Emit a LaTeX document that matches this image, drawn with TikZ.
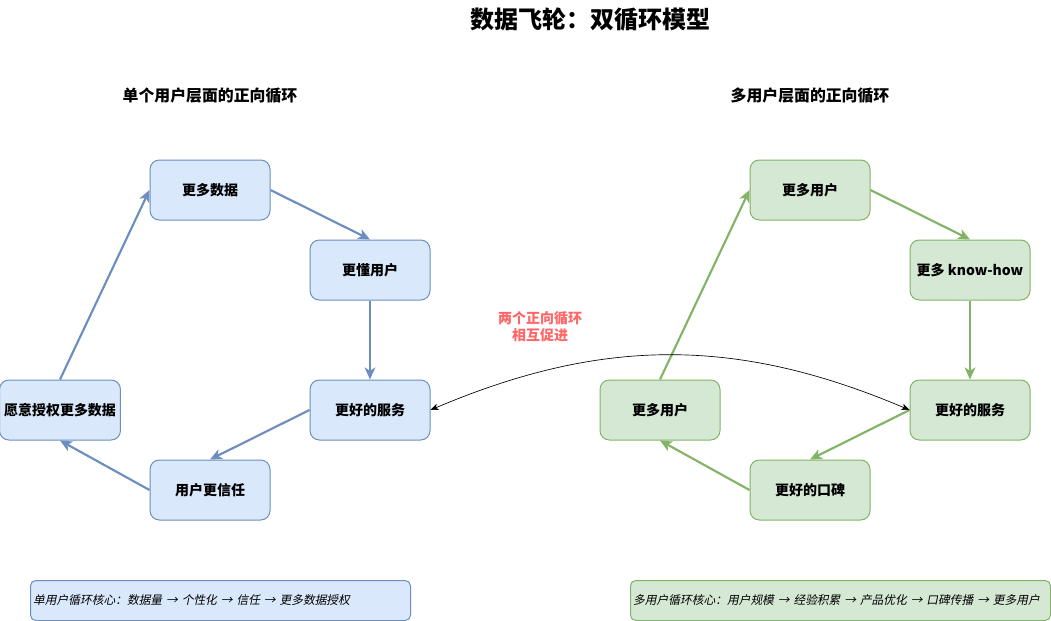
\documentclass[tikz,border=0pt]{standalone}
\usepackage{fontspec}
\setmainfont{Noto Sans CJK SC}[AutoFakeSlant=0.2]
\usetikzlibrary{arrows.meta}
\definecolor{bluefill}{HTML}{DAE8FC}
\definecolor{bluedraw}{HTML}{6C8EBF}
\definecolor{greenfill}{HTML}{D5E8D4}
\definecolor{greendraw}{HTML}{82B366}
\definecolor{linkred}{HTML}{FF6666}
\tikzset{
  bluebox/.style={rectangle, rounded corners=7pt, draw=bluedraw, fill=bluefill, line width=0.75pt, minimum width=90pt, minimum height=45pt, align=center, font=\fontsize{10.5pt}{12pt}\selectfont\bfseries},
  greenbox/.style={rectangle, rounded corners=7pt, draw=greendraw, fill=greenfill, line width=0.75pt, minimum width=90pt, minimum height=45pt, align=center, font=\fontsize{10.5pt}{12pt}\selectfont\bfseries},
  bluearrow/.style={-{Stealth[length=9pt, width=8pt, inset=2.5pt]}, line width=1.6pt, draw=bluedraw},
  greenarrow/.style={-{Stealth[length=9pt, width=8pt, inset=2.5pt]}, line width=1.6pt, draw=greendraw},
}

\begin{document}
\begin{tikzpicture}[x=0.75pt, y=-0.75pt]
  \tikzset{
    heading/.style={font=\fontsize{11.9pt}{13pt}\selectfont\bfseries},
    linkarrow/.style={{Stealth[length=6pt, width=5pt, inset=1.5pt]}-{Stealth[length=6pt, width=5pt, inset=1.5pt]}, line width=0.5pt},
    summary/.style={rectangle, rounded corners=4pt, line width=0.75pt, minimum height=30pt, inner sep=2pt, align=left, anchor=north west, font=\fontsize{8.8pt}{10pt}\selectfont\itshape},
  }
  \useasboundingbox (0,0) rectangle (1051,621);

  % Titles
  \node[font=\fontsize{18pt}{20pt}\selectfont\bfseries] (title) at (590,20) {数据飞轮：双循环模型};
  \node[heading] (lefthead) at (210,96) {单个用户层面的正向循环};
  \node[heading] (righthead) at (810,96) {多用户层面的正向循环};

  % Single user loop
  \node[bluebox] (data) at (210,190) {更多数据};
  \node[bluebox] (know) at (370,270) {更懂用户};
  \node[bluebox] (lservice) at (370,410) {更好的服务};
  \node[bluebox] (trust) at (210,490) {用户更信任};
  \node[bluebox] (grant) at (60,410) {愿意授权更多数据};

  \draw[bluearrow] (data.east) -- (know.north);
  \draw[bluearrow] (know.south) -- (lservice.north);
  \draw[bluearrow] (lservice.west) -- (trust.north);
  \draw[bluearrow] (trust.west) -- (grant.south);
  \draw[bluearrow] (grant.north) -- (data.west);

  % Multi user loop
  \node[greenbox] (users) at (810,190) {更多用户};
  \node[greenbox] (knowhow) at (970,270) {更多 know-how};
  \node[greenbox] (rservice) at (970,410) {更好的服务};
  \node[greenbox] (praise) at (810,490) {更好的口碑};
  \node[greenbox] (newusers) at (660,410) {更多用户};

  \draw[greenarrow] (users.east) -- (knowhow.north);
  \draw[greenarrow] (knowhow.south) -- (rservice.north);
  \draw[greenarrow] (rservice.west) -- (praise.north);
  \draw[greenarrow] (praise.west) -- (newusers.south);
  \draw[greenarrow] (newusers.north) -- (users.west);

  % Link between the loops
  \draw[linkarrow] (lservice.east) to[bend left=23] (rservice.west);
  \node[font=\fontsize{10.5pt}{13pt}\selectfont\bfseries, text=linkred, align=center] (linklabel) at (540,327) {两个正向循环\\相互促进};

  % Summaries
  \node[summary, draw=bluedraw, fill=bluefill, text width=281pt] (leftsum) at (30,580) {单用户循环核心：数据量 → 个性化 → 信任 → 更多数据授权};
  \node[summary, draw=greendraw, fill=greenfill, text width=311pt] (rightsum) at (630,580) {多用户循环核心：用户规模 → 经验积累 → 产品优化 → 口碑传播 → 更多用户};

\end{tikzpicture}
\end{document}
